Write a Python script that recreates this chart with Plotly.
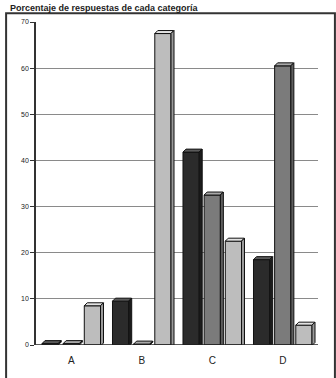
import plotly.graph_objects as go

# Response percentages per category, three answer groups
categories = ["A", "B", "C", "D"]
serie_oscura = [0.3, 9.5, 41.8, 18.5]
serie_media = [0.3, 0.2, 32.5, 60.5]
serie_clara = [8.5, 67.5, 22.5, 4.3]
y_ticks = [0, 10, 20, 30, 40, 50, 60, 70]

series = [serie_oscura, serie_media, serie_clara]
fills = ["#2b2b2b", "#7b7b7b", "#bdbdbd"]
tops = ["#5a5a5a", "#a8a8a8", "#e2e2e2"]
sides = ["#1c1c1c", "#5e5e5e", "#9a9a9a"]

slot = 0.3        # distance between bar centres inside a group (category units)
half_w = 0.115    # half bar width (category units)
depth = 3         # 3D depth in pixels
px_per_unit = 331 / 70

fig = go.Figure()
for k, vals in enumerate(series):
    fig.add_trace(go.Bar(
        x=[i + (k - 1) * slot for i in range(len(categories))],
        y=vals,
        width=2 * half_w,
        marker=dict(color=fills[k], line=dict(color="#111111", width=1)),
        showlegend=False,
    ))

shapes = []
for k, vals in enumerate(series):
    for i, v in enumerate(vals):
        xl = i + (k - 1) * slot - half_w
        xr = i + (k - 1) * slot + half_w
        h = v * px_per_unit
        # top face, anchored at the bar's top-left corner
        shapes.append(dict(
            type="path", xref="x", yref="y", xsizemode="pixel", ysizemode="pixel",
            xanchor=xl, yanchor=v,
            path=f"M0,0 L{depth},{depth} L{16 + depth},{depth} L16,0 Z",
            fillcolor=tops[k], line=dict(color="#111111", width=1), layer="above",
        ))
        # right side face, anchored at the bar's top-right corner
        shapes.append(dict(
            type="path", xref="x", yref="y", xsizemode="pixel", ysizemode="pixel",
            xanchor=xr, yanchor=v,
            path=f"M0,0 L{depth},{depth} L{depth},{depth - h} L0,{-h} Z",
            fillcolor=sides[k], line=dict(color="#111111", width=1), layer="above",
        ))

# floor line
shapes.append(dict(type="line", xref="paper", yref="y", x0=0, x1=1, y0=0, y1=0,
                   line=dict(color="#222222", width=1.5), layer="above"))
# outer frame
shapes.append(dict(type="rect", xref="paper", yref="paper", x0=-0.106, x1=1.06,
                   y0=-0.2, y1=1.027, line=dict(color="#333333", width=2)))

fig.update_layout(
    width=336, height=378,
    margin=dict(l=36, r=18, t=22, b=25),
    paper_bgcolor="white", plot_bgcolor="white",
    font=dict(family="Liberation Sans, Arial, sans-serif", color="#222222"),
    shapes=shapes,
    barmode="overlay",
    xaxis=dict(
        tickmode="array", tickvals=list(range(len(categories))), ticktext=categories,
        range=[-0.5, 3.5], showgrid=False, showline=False, ticks="",
        tickfont=dict(size=10, color="#222222"), ticklabelstandoff=8, zeroline=False,
    ),
    yaxis=dict(
        range=[0, 70], tickvals=y_ticks, showgrid=True, gridcolor="#8a8a8a",
        gridwidth=1, showline=True, linecolor="#333333", linewidth=1.5,
        ticks="outside", ticklen=4, tickcolor="#333333",
        tickfont=dict(size=7, color="#222222"), zeroline=False,
    ),
    annotations=[dict(
        text="<b>Porcentaje de respuestas de cada categoría</b>",
        xref="paper", yref="paper", x=-0.1, y=1.066, xanchor="left", yanchor="top",
        showarrow=False, font=dict(size=9, color="#222222"),
    )],
)

fig.write_html("out.html")
